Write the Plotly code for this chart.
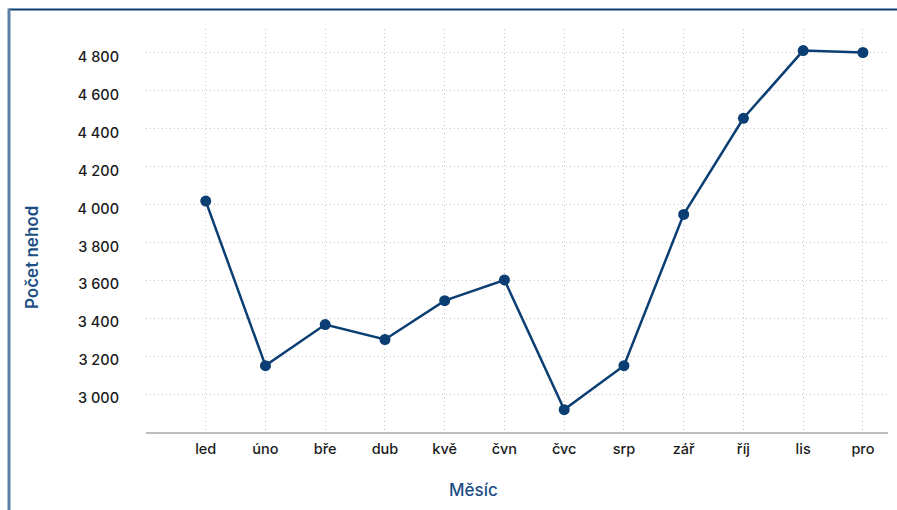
import plotly.graph_objects as go

months = ["led", "úno", "bře", "dub", "kvě", "čvn", "čvc", "srp", "zář", "říj", "lis", "pro"]
accidents = [4018, 3150, 3367, 3288, 3493, 3602, 2918, 3150, 3948, 4455, 4812, 4802]
y_ticks = [3000, 3200, 3400, 3600, 3800, 4000, 4200, 4400, 4600, 4800]

W, H = 897, 510
px = lambda v: v / W
py = lambda v: 1 - v / H

line_color = "#0b3f73"
title_color = "#1d4f86"
font_family = "Inter, 'Open Sans', sans-serif"
grid_color = "#c4c4c4"

fig = go.Figure()
fig.add_trace(go.Scatter(
    x=list(range(len(months))), y=accidents, mode="lines+markers",
    line=dict(color=line_color, width=2.5),
    marker=dict(color=line_color, size=11),
    hoverinfo="skip", showlegend=False,
))

fig.update_layout(
    width=W, height=H,
    margin=dict(l=0, r=0, t=0, b=0),
    paper_bgcolor="white", plot_bgcolor="white",
    separators=", ",
    font=dict(family=font_family, color="#1a1a1a", size=14),
    xaxis=dict(
        domain=[px(146), px(888)],
        range=[-1, 11.42],
        tickmode="array",
        tickvals=list(range(len(months))),
        ticktext=months,
        showgrid=True, gridcolor=grid_color, griddash="1px,3px", gridwidth=1,
        showline=True, linecolor="#bdbdbd", linewidth=1.5,
        ticks="", ticklabelstandoff=3,
        tickfont=dict(size=14.5, color="#1a1a1a", family=font_family, weight=500),
        zeroline=False, automargin=False,
    ),
    yaxis=dict(
        domain=[py(432), py(29)],
        range=[2800, 4926],
        tickmode="array", tickvals=y_ticks,
        tickformat=",d",
        showgrid=True, gridcolor=grid_color, griddash="1px,3px", gridwidth=1,
        showline=False, ticks="", ticklabelstandoff=26, ticklabelshift=4,
        tickfont=dict(size=14.5, color="#1a1a1a", family=font_family, weight=500),
        zeroline=False, automargin=False,
    ),
    annotations=[
        dict(text="Měsíc", xref="paper", yref="paper", x=px(473), y=py(490),
             xanchor="center", yanchor="middle", showarrow=False,
             font=dict(size=17, color=title_color, family=font_family, weight=500)),
        dict(text="Počet nehod", xref="paper", yref="paper", x=px(32), y=py(258),
             xanchor="center", yanchor="middle", showarrow=False, textangle=-90,
             font=dict(size=17, color=title_color, family=font_family, weight=600)),
    ],
    shapes=[
        dict(type="line", xref="paper", yref="paper", x0=px(9), x1=1.0, y0=py(9.5), y1=py(9.5),
             line=dict(color="#0b3f71", width=2)),
        dict(type="line", xref="paper", yref="paper", x0=px(9), x1=px(9), y0=py(8.5), y1=0,
             line=dict(color="#5a7ea6", width=3)),
    ],
)

fig.write_html("out.html")
